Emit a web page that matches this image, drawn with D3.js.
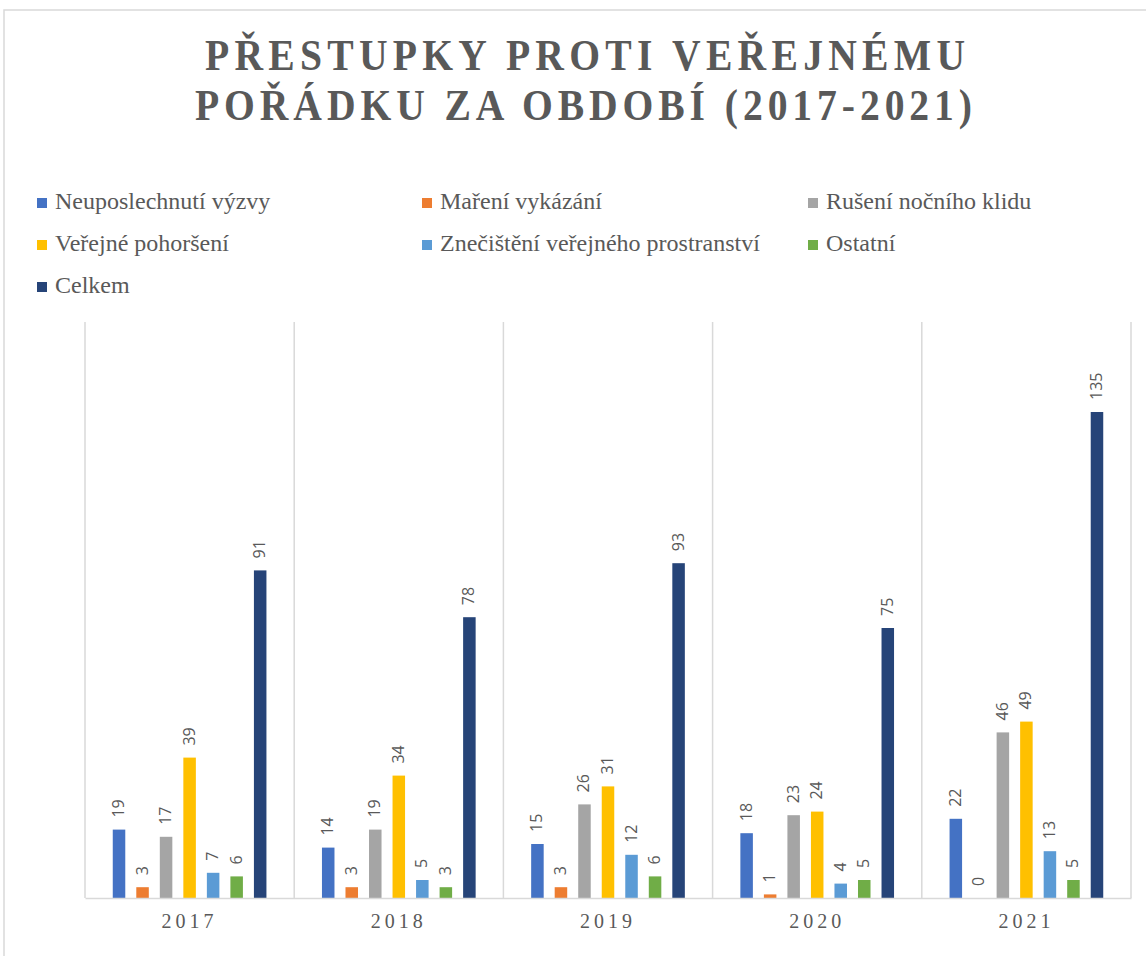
<!DOCTYPE html>
<html>
<head>
<meta charset="utf-8">
<script src="https://cdn.jsdelivr.net/npm/d3@7"></script>
<style>
  html, body { margin: 0; padding: 0; background: #fff; }
  svg { display: block; }
</style>
</head>
<body>
<svg id="chart" width="1146" height="956"></svg>
<script>
const years = ["2017", "2018", "2019", "2020", "2021"];
const seriesNames = ["Neuposlechnutí výzvy", "Maření vykázání", "Rušení nočního klidu", "Veřejné pohoršení", "Znečištění veřejného prostranství", "Ostatní", "Celkem"];
const neuposlechnuti = [19, 14, 15, 18, 22];
const mareni = [3, 3, 3, 1, 0];
const ruseni = [17, 19, 26, 23, 46];
const pohorseni = [39, 34, 31, 24, 49];
const znecisteni = [7, 5, 12, 4, 13];
const ostatni = [6, 3, 6, 5, 5];
const celkem = [91, 78, 93, 75, 135];
const seriesValues = [neuposlechnuti, mareni, ruseni, pohorseni, znecisteni, ostatni, celkem];
const colors = ["#4472C4", "#ED7D31", "#A5A5A5", "#FFC000", "#5B9BD5", "#70AD47", "#264478"];
const titleLines = ["PŘESTUPKY PROTI VEŘEJNÉMU", "POŘÁDKU ZA OBDOBÍ (2017-2021)"];
const yMax = 160;

const svg = d3.select("#chart");
const textColor = "#595959";
const gridColor = "#D9D9D9";

// chart border
svg.append("rect").attr("x", 4).attr("y", 10).attr("width", 1200).attr("height", 1000)
  .attr("fill", "none").attr("stroke", gridColor).attr("stroke-width", 1.5);

// title (condensed glyphs, widened spacing)
const sx = 0.88;
const titleSpec = [{y: 70, cx: 585, len: 760}, {y: 120, cx: 583.5, len: 777}];
titleLines.forEach((t, i) => {
  svg.append("text")
    .attr("transform", `scale(${sx},1)`)
    .attr("x", titleSpec[i].cx / sx).attr("y", titleSpec[i].y)
    .attr("text-anchor", "middle")
    .attr("font-family", "'Liberation Serif', 'Times New Roman', serif")
    .attr("font-weight", "bold").attr("font-size", 45)
    .attr("fill", textColor)
    .attr("textLength", titleSpec[i].len / sx)
    .attr("lengthAdjust", "spacing")
    .text(t);
});

// legend
const legendCols = [42, 427, 813];
const legendRows = [203, 245, 287];
const legend = svg.append("g");
seriesNames.forEach((name, i) => {
  const cx = legendCols[i % 3], cy = legendRows[Math.floor(i / 3)];
  legend.append("rect").attr("x", cx - 5).attr("y", cy - 5).attr("width", 10).attr("height", 10).attr("fill", colors[i]);
  legend.append("text").attr("x", cx + 13).attr("y", cy + 6)
    .attr("font-family", "'Liberation Serif', 'Times New Roman', serif")
    .attr("font-size", 24).attr("fill", textColor).text(name);
});

// scales
const x0 = d3.scaleBand().domain(years).range([85, 1131]).padding(0);
const x1 = d3.scaleBand().domain(seriesNames).range([0, x0.bandwidth()]).paddingInner(0.468).paddingOuter(1.18);
const y = d3.scaleLinear().domain([0, yMax]).range([898, 322]);

// vertical gridlines at category boundaries
const bounds = years.map(yr => x0(yr)).concat([x0.range()[1]]);
svg.append("g").selectAll("line").data(bounds).join("line")
  .attr("x1", d => d).attr("x2", d => d)
  .attr("y1", y(yMax)).attr("y2", y(0))
  .attr("stroke", gridColor).attr("stroke-width", 1.5);

// bars
const groups = svg.append("g").selectAll("g").data(years).join("g")
  .attr("transform", d => `translate(${x0(d)},0)`);
groups.each(function(yr, yi) {
  const g = d3.select(this);
  seriesNames.forEach((s, si) => {
    const v = seriesValues[si][yi];
    g.append("rect")
      .attr("x", x1(s)).attr("width", x1.bandwidth())
      .attr("y", y(v)).attr("height", y(0) - y(v))
      .attr("fill", colors[si]);
    const lx = x1(s) + x1.bandwidth() / 2;
    const ly = y(v) - 12;
    g.append("text")
      .attr("transform", `translate(${lx + 5},${ly}) rotate(-90)`)
      .attr("text-anchor", "start")
      .attr("font-family", "'Open Sans', 'Liberation Sans', sans-serif")
      .attr("font-size", 16).attr("fill", textColor)
      .text(v);
  });
});

// x axis
const xAxis = svg.append("g").attr("transform", `translate(0,${y(0)})`)
  .call(d3.axisBottom(x0).tickSize(0).tickPadding(0));
xAxis.select(".domain").attr("stroke", gridColor).attr("stroke-width", 1.5);
xAxis.selectAll("text")
  .attr("y", 30).attr("dy", 0)
  .attr("font-family", "'Liberation Serif', 'Times New Roman', serif")
  .attr("font-size", 20).attr("fill", textColor)
  .attr("letter-spacing", "4px");
</script>
</body>
</html>
